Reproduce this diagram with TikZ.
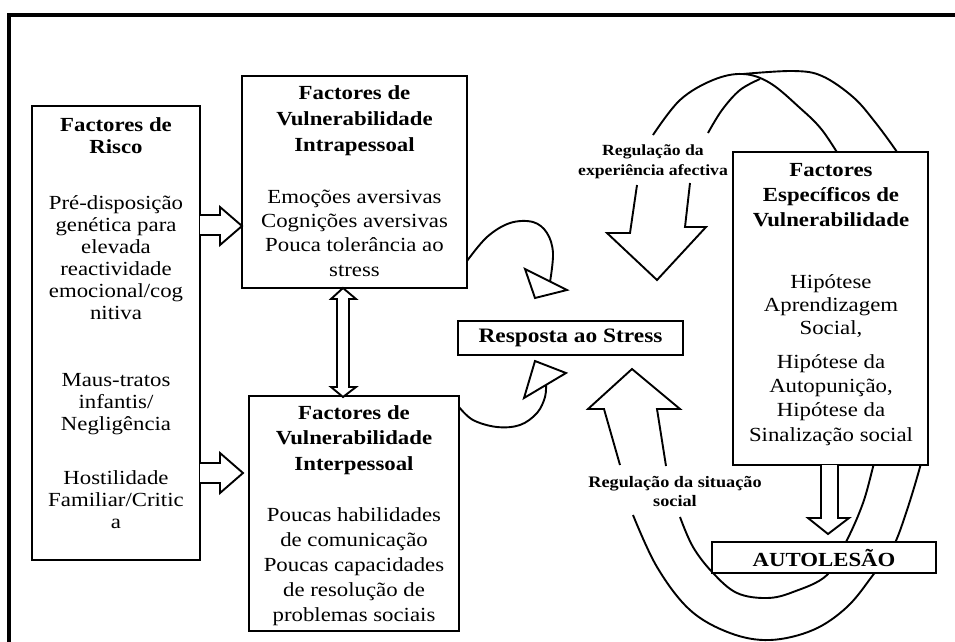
\documentclass[tikz,border=0pt]{standalone}
\usepackage{fontspec}
\setmainfont{Liberation Serif}[FakeStretch=1.14]
\usetikzlibrary{calc}
\tikzset{
  box/.style={draw, line width=2.4pt, fill=white, inner sep=0pt},
  txt/.style={anchor=north, inner sep=0pt, align=center},
  curve/.style={line width=1.9pt, line join=round},
  blockarr/.style={draw, line width=1.9pt, fill=white, line join=miter},
  tri/.style={draw, line width=1.9pt, fill=white, line join=miter},
}
\begin{document}
\begin{tikzpicture}[x=1pt, y=-1pt]
\useasboundingbox (0,0) rectangle (955,641);
% frame
\draw[line width=4pt] (9,643) -- (9,15) -- (957,15);

% loop curves (behind boxes)
\draw[curve] plot[smooth, tension=0.6] coordinates {(653,135) (680,100) (713,80) (743,74) (770,83) (800,108) (822,130) (843,162)};
\draw[curve] plot[smooth, tension=0.6] coordinates {(708,133) (722,110) (740,90) (760,79)};
\draw[curve] plot[smooth, tension=0.6] coordinates {(743,74) (793,71) (822,76) (853,97) (875,122) (897,152) (902,162)};
\draw[curve] plot[smooth, tension=0.6] coordinates {(876,455) (873,467) (863,503) (847,540) (827,575) (793,592) (767,598) (737,593) (713,573) (693,547) (680,517)};
\draw[curve] plot[smooth, tension=0.6] coordinates {(922,455) (920,467) (907,510) (893,547) (873,575) (847,607) (813,630) (770,640) (730,633) (690,610) (657,567) (633,515)};

% boxes
\node[box, minimum width=168pt, minimum height=454pt] (risk) at (116,333) {};
\node[box, minimum width=225pt, minimum height=212pt] (intra) at (354.5,182) {};
\node[box, minimum width=210pt, minimum height=235pt] (inter) at (354,513.5) {};
\node[box, minimum width=225pt, minimum height=34pt, font=\fontsize{20.5}{22}\selectfont\bfseries] (resp) at (570.5,338) {Resposta ao Stress};
\node[box, minimum width=195pt, minimum height=313pt] (spec) at (830.5,308.5) {};
\node[box, minimum width=224pt, minimum height=31pt, font=\fontsize{20}{22}\selectfont\bfseries] (auto) at (824,557.5) {AUTOLESÃO};

% texts
\node[txt, font=\fontsize{20}{22}\selectfont\bfseries] (riskt) at (116,115.6) {\strut Factores de\\Risco};
\node[txt, font=\fontsize{20}{22}\selectfont] (riska) at (116,193.6) {\strut Pré-disposição\\genética para\\elevada\\reactividade\\emocional/cog\\nitiva};
\node[txt, font=\fontsize{20}{22}\selectfont] (riskb) at (116,370.6) {\strut Maus-tratos\\infantis/\\Negligência};
\node[txt, font=\fontsize{20}{22}\selectfont] (riskc) at (116,468.6) {\strut Hostilidade\\Familiar/Critic\\a};

\node[txt, font=\fontsize{20}{26}\selectfont\bfseries] (intrat) at (354.5,80.8) {\strut Factores de\\Vulnerabilidade\\Intrapessoal};
\node[txt, font=\fontsize{20}{24.3}\selectfont] (intrab) at (354.5,186) {\strut Emoções aversivas\\Cognições aversivas\\Pouca tolerância ao\\stress};

\node[txt, font=\fontsize{20}{25.5}\selectfont\bfseries] (intert) at (354,401) {\strut Factores de\\Vulnerabilidade\\Interpessoal};
\node[txt, font=\fontsize{20}{25}\selectfont] (interb) at (354,503.5) {\strut Poucas habilidades\\de comunicação\\Poucas capacidades\\de resolução de\\problemas sociais};

\node[txt, font=\fontsize{20}{25}\selectfont\bfseries] (spect) at (831,158.5) {\strut Factores\\Específicos de\\Vulnerabilidade};
\node[txt, font=\fontsize{20}{23}\selectfont] (specb) at (831,271.9) {\strut Hipótese\\Aprendizagem\\Social,};
\node[txt, font=\fontsize{20}{24.3}\selectfont] (specc) at (831,351) {\strut Hipótese da\\Autopunição,\\Hipótese da\\Sinalização social};

\node[txt, font=\fontsize{15.5}{20}\selectfont\bfseries] (lab1) at (653,141) {\strut Regulação da\\experiência afectiva};
\node[txt, font=\fontsize{16}{19}\selectfont\bfseries] (lab2) at (675,473.7) {\strut Regulação da situação\\social};

% block arrows from risk box
\draw[blockarr] (200,215) -- (220,215) -- (220,207) -- (242,226) -- (220,245) -- (220,235) -- (200,235);
\draw[blockarr] (200,463) -- (220,463) -- (220,453) -- (243,473) -- (220,493) -- (220,483) -- (200,483);
% double arrow intra <-> inter
\draw[blockarr] (343,288) -- (356,299) -- (349,299) -- (349,387) -- (356,387) -- (343,397) -- (331,387) -- (337,387) -- (337,299) -- (331,299) -- cycle;
% spec -> auto
\draw[blockarr] (821,465) -- (821,518) -- (808,518) -- (828,534) -- (849,518) -- (838,518) -- (838,465);

% big regulation arrows
\draw[blockarr] (637,185) -- (630,233) -- (607,233) -- (657,280) -- (706,227) -- (685,227) -- (690,183);
\draw[blockarr] (620,465) -- (604,409) -- (588,409) -- (632,369) -- (680,409) -- (657,409) -- (666,466);

% small curved arrows to Resposta
\draw[curve] plot[smooth, tension=0.6] coordinates {(467,261) (487,237) (510,223) (533,222) (547,233) (553,253) (550,282)};
\draw[tri] (525,269) -- (535,298) -- (567,290) -- cycle;
\draw[curve] plot[smooth, tension=0.6] coordinates {(459,407) (473,420) (497,427) (520,425) (537,413) (545,397) (546,383)};
\draw[tri] (524,398) -- (535,361) -- (566,373) -- cycle;
\end{tikzpicture}
\end{document}
